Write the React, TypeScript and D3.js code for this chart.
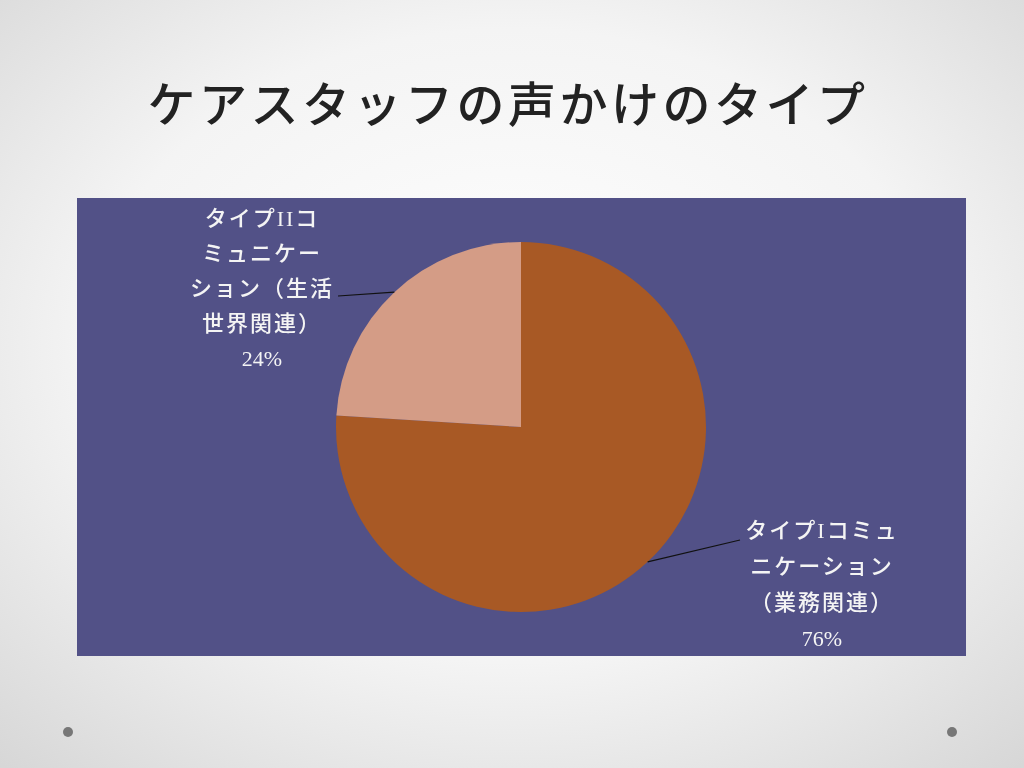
import React from 'react';
import * as d3 from 'd3';

// chart data
const categories = ['タイプIコミュニケーション（業務関連）', 'タイプIIコミュニケーション（生活世界関連）'];
const values = [76, 24];
const colors = ['#A85925', '#D49C86'];
const labelLines = [
  ['タイプIコミュ', 'ニケーション', '（業務関連）', '76%'],
  ['タイプIIコ', 'ミュニケー', 'ション（生活', '世界関連）', '24%'],
];

const W = 1024;
const H = 768;
const box = { x: 77, y: 198, w: 889, h: 458 };
const cx = 521;
const cy = 427;
const radius = 185;

const fontStack = '"Liberation Serif", "DejaVu Serif", "Noto Sans CJK JP", serif';

export default function App() {
  const pie = d3.pie<number>().sort(null).value((d) => d);
  const arcs = pie(values);
  const arc = d3.arc<d3.PieArcDatum<number>>().innerRadius(0).outerRadius(radius);

  // label placement (leader end + text anchor center)
  const labelPos = [
    { lineEnd: [740, 540], tx: 822, ty: 530, step: 36 },
    { lineEnd: [338, 296], tx: 262, ty: 218, step: 35 },
  ];

  return (
    <div style={{ position: 'fixed', left: 0, top: 0, width: W, height: H }}>
      <svg width={W} height={H} style={{ display: 'block' }}>
        <defs>
          <radialGradient id="bg" cx="50%" cy="45%" r="75%">
            <stop offset="0%" stopColor="#ffffff" />
            <stop offset="55%" stopColor="#f4f4f4" />
            <stop offset="100%" stopColor="#d6d6d6" />
          </radialGradient>
        </defs>
        <rect x={0} y={0} width={W} height={H} fill="url(#bg)" />
        <text
          x={508}
          y={105}
          textAnchor="middle"
          dominantBaseline="central"
          fontFamily={fontStack}
          fontSize={48}
          fontWeight={500}
          fill="#222"
          letterSpacing={3.5}
        >
          ケアスタッフの声かけのタイプ
        </text>
        <rect x={box.x} y={box.y} width={box.w} height={box.h} fill="#525187" />
        <g transform={`translate(${cx},${cy})`}>
          {arcs.map((a, i) => (
            <path key={categories[i]} d={arc(a) || ''} fill={colors[i]} />
          ))}
        </g>
        {arcs.map((a, i) => {
          const mid = (a.startAngle + a.endAngle) / 2;
          const px = cx + Math.sin(mid) * radius;
          const py = cy - Math.cos(mid) * radius;
          const lp = labelPos[i];
          return (
            <g key={'lbl' + i}>
              <line x1={px} y1={py} x2={lp.lineEnd[0]} y2={lp.lineEnd[1]} stroke="#111" strokeWidth={1.2} />
              {labelLines[i].map((t, j) => (
                <text
                  key={j}
                  x={lp.tx}
                  y={lp.ty + j * lp.step}
                  textAnchor="middle"
                  dominantBaseline="central"
                  fontFamily={fontStack}
                  fontSize={22}
                  fontWeight={500}
                  fill="#f4f4f4"
                  letterSpacing={j === labelLines[i].length - 1 ? 0 : 2}
                >
                  {t}
                </text>
              ))}
            </g>
          );
        })}
        <circle cx={68} cy={732} r={5} fill="#777" />
        <circle cx={952} cy={732} r={5} fill="#777" />
      </svg>
    </div>
  );
}
